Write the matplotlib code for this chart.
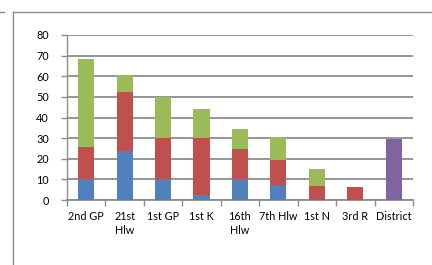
import matplotlib.pyplot as plt
import numpy as np
from matplotlib.lines import Line2D

# values
categories = ["2nd GP", "21st\nHlw", "1st GP", "1st K", "16th\nHlw",
              "7th Hlw", "1st N", "3rd R", "District"]
blue = [10.2, 23.6, 10.2, 2.7, 10.2, 7.1, 0, 0, 0]
red = [15.3, 28.8, 19.8, 27.3, 14.6, 12.3, 6.9, 6.1, 0]
green = [42.8, 8.4, 20.0, 14.2, 9.4, 11.3, 8.3, 0, 0]
purple = [0, 0, 0, 0, 0, 0, 0, 0, 29.6]

plt.rcParams['font.family'] = ['Lato', 'DejaVu Sans']

fig = plt.figure(figsize=(4.32, 2.65), dpi=100)
ax = fig.add_axes([0.155, 0.245, 0.801, 0.623])

x = np.arange(len(categories))
w = 0.42
b1 = np.array(blue)
b2 = b1 + np.array(red)
b3 = b2 + np.array(green)
ax.bar(x, blue, w, color="#4F81BD", zorder=3)
ax.bar(x, red, w, bottom=b1, color="#C0504D", zorder=3)
ax.bar(x, green, w, bottom=b2, color="#9BBB59", zorder=3)
ax.bar(x, purple, w, bottom=b3, color="#8064A2", zorder=3)

ax.set_xlim(-0.5, len(categories) - 0.5)
ax.set_ylim(0, 80)
ax.set_yticks(range(0, 81, 10))
ax.yaxis.grid(True, color="#8c8c8c", linewidth=1.3)
ax.set_axisbelow(True)

ax.set_xticks(x)
ax.set_xticklabels(categories, fontsize=7.8, linespacing=1.35)
ax.set_xticks(np.arange(-0.5, len(categories), 1), minor=True)
ax.tick_params(axis="x", which="major", length=0, pad=8)
ax.tick_params(axis="x", which="minor", length=4, direction="out",
               color="#8c8c8c", width=1)
ax.tick_params(axis="y", length=4, color="#8c8c8c", width=1,
               labelsize=7.8, pad=9)

for s in ["top", "right"]:
    ax.spines[s].set_visible(False)
ax.spines["left"].set_color("#8c8c8c")
ax.spines["bottom"].set_color("#8c8c8c")
ax.spines["left"].set_linewidth(1)
ax.spines["bottom"].set_linewidth(1.3)

# outer chart border (left and top edges visible)
W, H = 432, 265
fig.add_artist(Line2D([13 / W, 13 / W], [0, 1 - 12 / H], color="#8c8c8c",
                      linewidth=1, transform=fig.transFigure))
fig.add_artist(Line2D([13 / W, 1], [1 - 12 / H, 1 - 12 / H], color="#8c8c8c",
                      linewidth=1, transform=fig.transFigure))
fig.add_artist(Line2D([0, 4 / W], [1 - 12 / H, 1 - 12 / H], color="#8c8c8c",
                      linewidth=1, transform=fig.transFigure))

fig.savefig("out.png", dpi=100)
